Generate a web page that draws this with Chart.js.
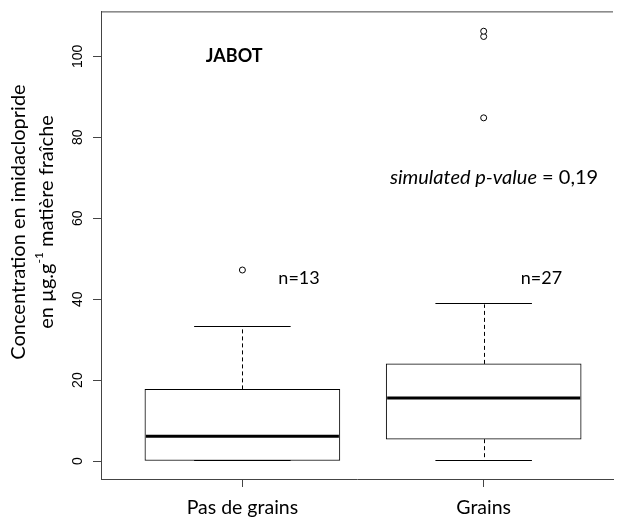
<!DOCTYPE html>
<html lang="fr">
<head>
<meta charset="UTF-8">
<title>JABOT - imidaclopride</title>
<script src="https://cdn.jsdelivr.net/npm/chart.js"></script>
<style>
  html, body { margin: 0; padding: 0; background: #fff; overflow: hidden; }
  canvas { display: block; }
</style>
</head>
<body>
<canvas id="boxChart" width="618" height="520"></canvas>
<script>
// Boxplot summaries per group
const categories = ['Pas de grains', 'Grains'];
const sampleSizes = ['n=13', 'n=27'];
const lowerWhisker = [0, 0];
const q1 = [0, 5.4];
const medians = [6.1, 15.6];
const q3 = [17.7, 24.0];
const upperWhisker = [33.2, 38.7];
const outliers = [[47.2], [84.8, 104.9, 106.2]];
const yTicks = [0, 20, 40, 60, 80, 100];

const FRAME = '#444';
const TEXT_FONT = 'Lato, "Open Sans", sans-serif';

// boxes as floating bars
const boxData = categories.map((c, i) => ({ x: i + 1, y: [q1[i], q3[i]] }));
const outlierData = [];
outliers.forEach((vals, i) => vals.forEach(v => outlierData.push({ x: i + 1, y: v })));

// whiskers, caps, medians, frame and free text
const boxExtras = {
  id: 'boxExtras',
  afterDatasetsDraw(chart) {
    const { ctx, scales: { x, y }, chartArea } = chart;
    ctx.save();
    ctx.strokeStyle = '#000';
    categories.forEach((c, i) => {
      const cx = Math.round(x.getPixelForValue(i + 1)) + 0.5;
      const capL = x.getPixelForValue(i + 1 - 0.2);
      const capR = x.getPixelForValue(i + 1 + 0.2);
      // dashed whiskers
      ctx.lineWidth = 1;
      ctx.setLineDash([4, 3]);
      ctx.beginPath();
      ctx.moveTo(cx, y.getPixelForValue(q3[i]));
      ctx.lineTo(cx, y.getPixelForValue(upperWhisker[i]));
      ctx.moveTo(cx, y.getPixelForValue(q1[i]));
      ctx.lineTo(cx, y.getPixelForValue(lowerWhisker[i]));
      ctx.stroke();
      ctx.setLineDash([]);
      // caps
      ctx.beginPath();
      [upperWhisker[i], lowerWhisker[i]].forEach(v => {
        const py = Math.round(y.getPixelForValue(v)) - 0.5;
        ctx.moveTo(capL, py);
        ctx.lineTo(capR, py);
      });
      ctx.stroke();
      // median
      ctx.lineWidth = 3;
      ctx.beginPath();
      const my = y.getPixelForValue(medians[i]);
      ctx.moveTo(x.getPixelForValue(i + 1 - 0.4), my);
      ctx.lineTo(x.getPixelForValue(i + 1 + 0.4), my);
      ctx.stroke();
    });

    // top edge of the plot frame
    ctx.strokeStyle = FRAME;
    ctx.lineWidth = 1;
    ctx.beginPath();
    ctx.moveTo(chartArea.left, chartArea.top + 0.5);
    ctx.lineTo(chartArea.right, chartArea.top + 0.5);
    ctx.stroke();

    // annotations
    ctx.fillStyle = '#000';
    ctx.textBaseline = 'middle';
    ctx.font = 'bold 18px ' + TEXT_FONT;
    ctx.textAlign = 'center';
    ctx.fillText('JABOT', x.getPixelForValue(0.966), y.getPixelForValue(100));

    ctx.font = '18px ' + TEXT_FONT;
    ctx.textAlign = 'left';
    ctx.fillText(sampleSizes[0], x.getPixelForValue(1.149), y.getPixelForValue(45.2));
    ctx.fillText(sampleSizes[1], x.getPixelForValue(2.154), y.getPixelForValue(45.2));

    const italicPart = 'simulated p-value';
    const plainPart = ' = 0,19';
    ctx.font = 'italic 20px ' + TEXT_FONT;
    const w1 = ctx.measureText(italicPart).width;
    ctx.font = '20px ' + TEXT_FONT;
    const w2 = ctx.measureText(plainPart).width;
    const px = x.getPixelForValue(2.043) - (w1 + w2) / 2;
    const py = y.getPixelForValue(70.1);
    ctx.font = 'italic 20px ' + TEXT_FONT;
    ctx.fillText(italicPart, px, py);
    ctx.font = '20px ' + TEXT_FONT;
    ctx.fillText(plainPart, px + w1, py);

    // y axis title, two lines, with superscript
    const cy = 222;
    ctx.save();
    ctx.translate(19, cy);
    ctx.rotate(-Math.PI / 2);
    ctx.textAlign = 'center';
    ctx.font = '20px ' + TEXT_FONT;
    ctx.fillText('Concentration en imidaclopride', 0, 0);
    ctx.restore();

    ctx.save();
    ctx.translate(47, cy);
    ctx.rotate(-Math.PI / 2);
    ctx.textAlign = 'left';
    const a = 'en µg.g', sup = '-1', b = ' matière fraîche';
    ctx.font = '20px ' + TEXT_FONT;
    const wa = ctx.measureText(a).width;
    const wb = ctx.measureText(b).width;
    ctx.font = '12px ' + TEXT_FONT;
    const ws = ctx.measureText(sup).width;
    const tx = -(wa + ws + wb) / 2;
    ctx.font = '20px ' + TEXT_FONT;
    ctx.fillText(a, tx, 0);
    ctx.font = '12px ' + TEXT_FONT;
    ctx.fillText(sup, tx + wa, -8);
    ctx.font = '20px ' + TEXT_FONT;
    ctx.fillText(b, tx + wa + ws, 0);
    ctx.restore();

    ctx.restore();
  }
};

new Chart(document.getElementById('boxChart'), {
  type: 'bar',
  data: {
    datasets: [
      {
        data: boxData,
        backgroundColor: '#fff',
        borderColor: '#000',
        borderWidth: 1,
        borderSkipped: false,
        barThickness: 195
      },
      {
        type: 'scatter',
        data: outlierData,
        pointStyle: 'circle',
        pointRadius: 3,
        pointBackgroundColor: '#fff',
        pointBorderColor: '#000',
        pointBorderWidth: 1
      }
    ]
  },
  options: {
    responsive: false,
    animation: false,
    layout: { padding: { top: 11, right: 0, left: 0, bottom: 0 } },
    plugins: { legend: { display: false }, tooltip: { enabled: false } },
    scales: {
      x: {
        type: 'linear',
        offset: false,
        min: 0.414,
        max: 2.536,
        afterBuildTicks: s => { s.ticks = categories.map((c, i) => ({ value: i + 1 })); },
        afterFit: s => { s.height = 41; },
        ticks: {
          callback: v => categories[v - 1],
          color: '#000',
          font: { family: TEXT_FONT, size: 19.5 },
          padding: 9,
          maxRotation: 0
        },
        grid: { drawOnChartArea: false, offset: false, tickLength: 8, color: FRAME },
        border: { display: true, color: FRAME }
      },
      y: {
        min: -4.44,
        max: 111.1,
        afterBuildTicks: s => { s.ticks = yTicks.map(v => ({ value: v })); },
        afterFit: s => { s.width = 101; },
        ticks: {
          minRotation: 90,
          maxRotation: 90,
          crossAlign: 'center',
          padding: 3,
          color: '#000',
          font: { family: '"Liberation Sans", Arial, sans-serif', size: 14 }
        },
        grid: { drawOnChartArea: false, tickLength: 8, color: FRAME },
        border: { display: true, color: FRAME }
      }
    }
  },
  plugins: [boxExtras]
});
</script>
</body>
</html>
